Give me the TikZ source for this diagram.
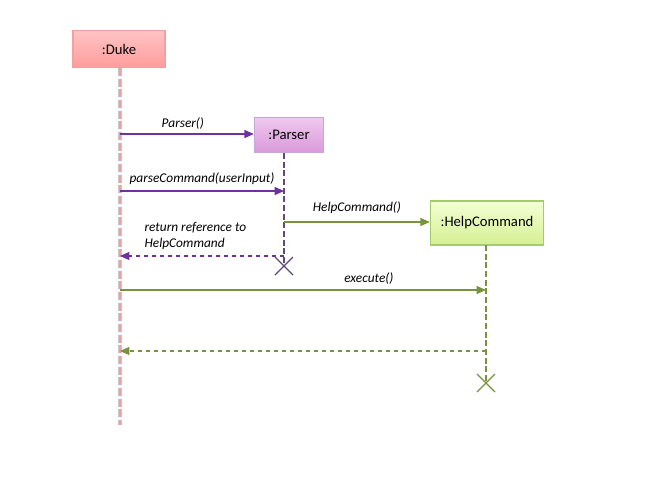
\documentclass[tikz,border=0pt]{standalone}
\usepackage{fontspec}
\setmainfont{Carlito}
\usetikzlibrary{arrows.meta,calc}
\definecolor{dukefill1}{HTML}{FFC4C4}
\definecolor{dukefill2}{HTML}{FF9C9C}
\definecolor{dukeedge}{HTML}{F2A0A0}
\definecolor{parfill1}{HTML}{F0C8F0}
\definecolor{parfill2}{HTML}{D99AD9}
\definecolor{paredge}{HTML}{C9A6D6}
\definecolor{helpfill1}{HTML}{F4FFD8}
\definecolor{helpfill2}{HTML}{D4F090}
\definecolor{helpedge}{HTML}{A6CC6A}
\definecolor{purp}{HTML}{7030A0}
\definecolor{purpdark}{HTML}{604A7B}
\definecolor{grn}{HTML}{77933C}
\definecolor{lifepink}{HTML}{F0A0A0}
\tikzset{
  obj/.style={draw=#1edge, line width=0.8pt, top color=#1fill1, bottom color=#1fill2, minimum height=28pt, inner sep=2pt, font=\fontsize{11}{13}\selectfont},
  msg/.style={line width=0.9pt, -{Triangle[length=7pt,width=6pt]}},
  ret/.style={line width=0.9pt, dashed, -{Triangle[length=7pt,width=6pt]}},
  lbl/.style={font=\itshape\fontsize{10}{12}\selectfont, inner sep=1pt},
  killx/.style={line width=0.9pt},
}
\begin{document}
\begin{tikzpicture}[x=0.75pt,y=-0.75pt]
\useasboundingbox (0,0) rectangle (653,490);
% objects
\node[obj=duke, minimum width=69pt] (duke) at (119,49) {:Duke};
\node[obj=par, minimum width=52pt, minimum height=26pt] (parser) at (289,135) {:Parser};
\node[obj=help, minimum width=85pt, minimum height=33pt] (help) at (487,223) {:HelpCommand};
% lifeline anchor coordinates
\coordinate (dukeTop) at (120,68);
\coordinate (dukeEnd) at (120,425);
\coordinate (parTop) at (284,153);
\coordinate (parEnd) at (284,266);
\coordinate (helpTop) at (486,245);
\coordinate (helpEnd) at (486,383);
% lifelines
\draw[gray!45, line width=2.6pt, dash pattern=on 6pt off 2pt] (dukeTop) -- (dukeEnd);
\draw[lifepink, line width=1.6pt, dash pattern=on 6pt off 2pt] (dukeTop) -- (dukeEnd);
\draw[purpdark, line width=1.6pt, dash pattern=on 4.5pt off 2pt] (parTop) -- (parEnd);
\draw[grn, line width=1.6pt, dash pattern=on 4.5pt off 2pt] (helpTop) -- (helpEnd);
% message points
\coordinate (m1s) at (120,134);
\coordinate (m2s) at (120,191); \coordinate (m2e) at (284,191);
\coordinate (m3s) at (284,222);
\coordinate (r1s) at (284,256); \coordinate (r1e) at (120,256);
\coordinate (m4s) at (120,290); \coordinate (m4e) at (486,290);
\coordinate (r2s) at (486,351); \coordinate (r2e) at (120,351);
% messages
\draw[msg, purp] (m1s) -- (parser.west |- m1s) node[lbl, pos=0.47, above=2pt, text=black] {Parser()};
\draw[msg, purp] (m2s) -- (m2e) node[lbl, midway, above=3pt, text=black] {parseCommand(userInput)};
\draw[msg, grn] (m3s) -- (help.west |- m3s) node[lbl, midway, above=5pt, text=black] {HelpCommand()};
\draw[ret, purp] (r1s) -- (r1e);
\node[lbl, align=left, anchor=south west] (rlbl) at (143,251) {return reference to\\HelpCommand};
\draw[msg, grn] (m4s) -- (m4e) node[lbl, pos=0.68, above=3pt, text=black] {execute()};
\draw[ret, grn] (r2s) -- (r2e);
% destruction marks
\draw[killx, purpdark] ($(parEnd)+(-9,-9)$) -- ($(parEnd)+(9,9)$) ($(parEnd)+(-9,9)$) -- ($(parEnd)+(9,-9)$);
\draw[killx, grn] ($(helpEnd)+(-9,-9)$) -- ($(helpEnd)+(9,9)$) ($(helpEnd)+(-9,9)$) -- ($(helpEnd)+(9,-9)$);
\end{tikzpicture}
\end{document}
